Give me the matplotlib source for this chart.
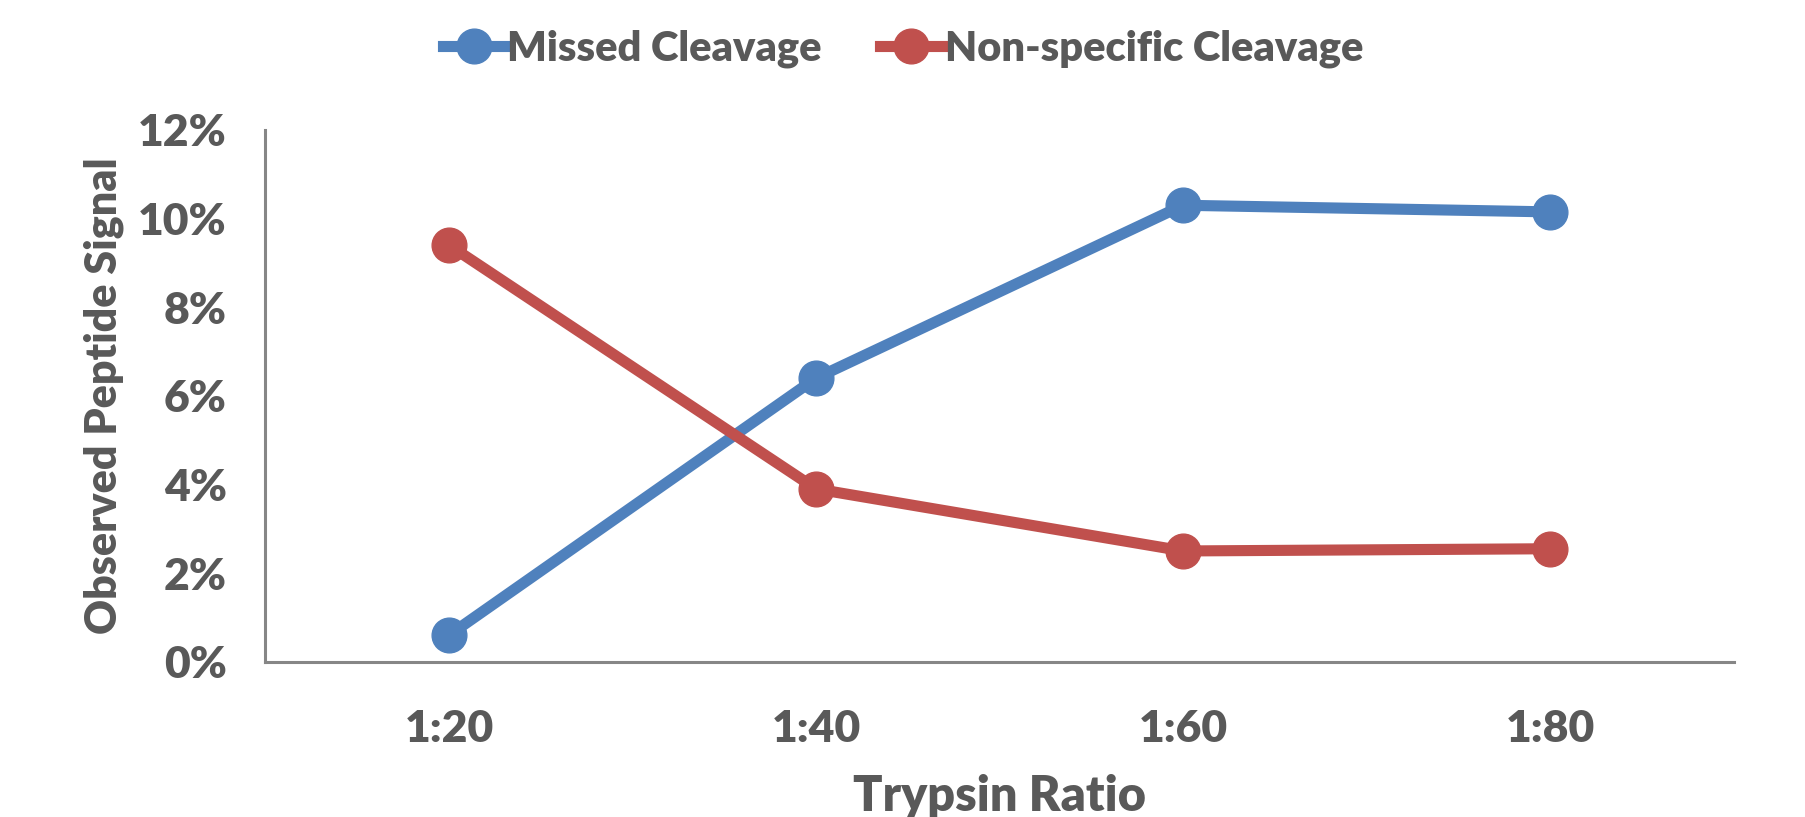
import matplotlib.pyplot as plt
from matplotlib.ticker import FuncFormatter

ratios = ["1:20", "1:40", "1:60", "1:80"]
missed = [0.6, 6.4, 10.3, 10.15]
nonspecific = [9.4, 3.9, 2.5, 2.55]

grey = "#595959"
blue = "#4F81BD"
red = "#C0504D"

plt.rcParams["font.family"] = ["Lato", "DejaVu Sans"]
plt.rcParams["font.weight"] = "heavy"

fig = plt.figure(figsize=(18.06, 8.17), dpi=100)
ax = fig.add_axes([0.147, 0.19, 0.813, 0.651])

x = range(len(ratios))
ax.plot(x, missed, color=blue, linewidth=8, marker="o", markersize=25, label="Missed Cleavage")
ax.plot(x, nonspecific, color=red, linewidth=8, marker="o", markersize=25, label="Non-specific Cleavage")

ax.set_xlim(-0.5, 3.5)
ax.set_ylim(0, 12)
ax.set_yticks([0, 2, 4, 6, 8, 10, 12])
ax.yaxis.set_major_formatter(FuncFormatter(lambda v, p: "%d%%" % v))
ax.set_xticks(list(x))
ax.set_xticklabels(ratios)

for s in ["top", "right"]:
    ax.spines[s].set_visible(False)
for s in ["left", "bottom"]:
    ax.spines[s].set_color("#868686")
    ax.spines[s].set_linewidth(2.2)

ax.tick_params(length=0, labelsize=32, colors=grey)
ax.tick_params(axis="y", pad=28)
ax.tick_params(axis="x", pad=34)
for lab in ax.get_xticklabels() + ax.get_yticklabels():
    lab.set_fontweight("heavy")

ax.set_xlabel("Trypsin Ratio", fontsize=35, color=grey, fontweight="heavy", labelpad=18)
ax.set_ylabel("Observed Peptide Signal", fontsize=31, color=grey, fontweight="heavy", labelpad=10)

fig.legend(loc="center", bbox_to_anchor=(0.5, 0.94), ncol=2, frameon=False,
           handlelength=1.5, handletextpad=0.05, columnspacing=1.4,
           labelcolor=grey, prop={"weight": "heavy", "size": 30})

fig.savefig("out.png", dpi=100)
